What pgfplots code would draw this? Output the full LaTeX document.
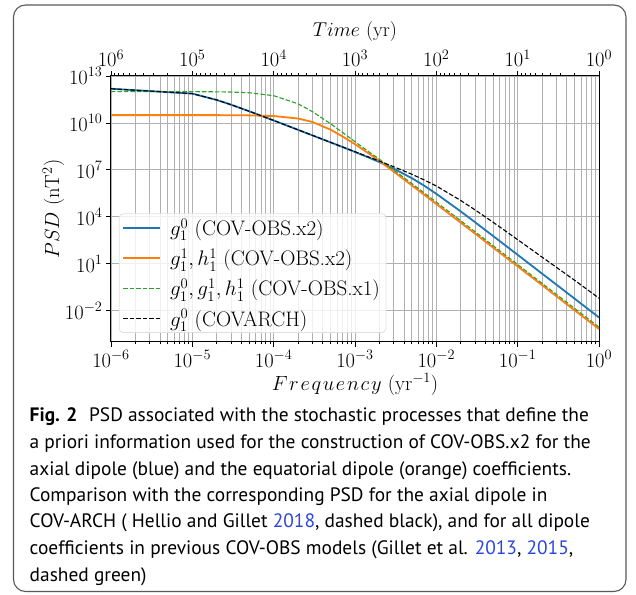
\RequirePackage{fix-cm}
\documentclass[border=0pt]{standalone}
\usepackage{pgfplots}
\pgfplotsset{compat=1.18}
\usepackage{fontspec}
\newfontfamily\capfont{PT Sans}
\definecolor{mplblue}{HTML}{1F77B4}
\definecolor{mplorange}{HTML}{FF7F0E}
\definecolor{mplgreen}{HTML}{2CA02C}
\definecolor{citeblue}{HTML}{2A45E0}
\definecolor{gridgray}{HTML}{B0B0B0}

\pgfplotstableread{
f        P
1e-6     1.53e12
1e-5     7.48e11
2e-5     2.93e11
3e-5     1.46e11
5e-5     5.57e10
1e-4     1.44e10
2e-4     3.60e9
3e-4     1.60e9
5e-4     5.73e8
7e-4     2.90e8
1e-3     1.39e8
1.5e-3   5.89e7
2e-3     3.13e7
3e-3     1.19e7
5e-3     2.95e6
7e-3     1.02e6
1e-2     2.95e5
2e-2     2.19e4
3e-2     4.47e3
5e-2     589
0.1      37.2
0.2      2.32
0.3      0.459
0.5      0.0594
1        3.72e-3
}\bluedata

\pgfplotstableread{
f        P
1e-6     3.16e10
1e-5     3.16e10
2e-5     3.16e10
3e-5     3.09e10
5e-5     3.05e10
1e-4     2.75e10
2e-4     1.91e10
3e-4     1.15e10
5e-4     3.72e9
7e-4     1.38e9
1e-3     4.37e8
1.5e-3   1.05e8
2e-3     3.63e7
3e-3     7.59e6
5e-3     1.02e6
7e-3     2.69e5
1e-2     6.61e4
2e-2     4.17e3
3e-2     832
5e-2     107
0.1      6.76
0.2      0.427
0.3      0.0832
0.5      0.0107
1        6.76e-4
}\orangedata

\pgfplotstableread{
f        P
1e-6     1.00e12
1e-5     9.97e11
2e-5     9.73e11
3e-5     9.42e11
5e-5     8.51e11
1e-4     5.50e11
2e-4     1.66e11
3e-4     5.25e10
5e-4     8.91e9
7e-4     2.51e9
1e-3     6.31e8
1.5e-3   1.35e8
2e-3     4.79e7
3e-3     9.77e6
5e-3     1.32e6
7e-3     3.55e5
1e-2     8.71e4
2e-2     5.56e3
3e-2     1.10e3
5e-2     141
0.1      8.91
0.2      0.556
0.3      0.110
0.5      0.0141
1        8.91e-4
}\greendata

\pgfplotstableread{
f        P
1e-6     1.53e12
1e-5     7.48e11
2e-5     2.93e11
3e-5     1.46e11
5e-5     5.57e10
1e-4     1.44e10
2e-4     3.61e9
3e-4     1.61e9
5e-4     5.78e8
7e-4     2.95e8
1e-3     1.45e8
1.5e-3   6.43e7
2e-3     3.61e7
3e-3     1.58e7
5e-3     5.25e6
7e-3     2.34e6
1e-2     9.33e5
2e-2     1.10e5
3e-2     2.75e4
5e-2     4.47e3
0.1      347
0.2      26.3
0.3      5.89
0.5      0.891
1        0.0631
}\blackdata

\begin{document}
\begin{tikzpicture}[x=1pt,y=1pt]
\path[use as bounding box] (0,0) rectangle (636,594);
\draw[rounded corners=12pt, color=black!65, line width=1.1pt] (13.5,2.5) rectangle (626,589);

% top axis (Time)
\begin{axis}[
  at={(111pt,252pt)}, anchor=south west,
  scale only axis, width=488pt, height=266pt,
  xmode=log, xmin=1, xmax=1e6, x dir=reverse,
  ymin=0, ymax=1,
  axis x line*=top, axis y line=none,
  tick align=outside,
  major tick length=5pt, minor tick length=2.5pt,
  every tick/.style={black, line width=0.8pt},
  axis line style={line width=1pt},
  ticklabel style={font=\fontsize{20.5}{20.5}\selectfont},
  xticklabel style={yshift=0.5pt},
  xlabel={$Time$ (yr)},
  xlabel style={font=\fontsize{20}{20}\selectfont, at={(axis description cs:0.5,1)}, anchor=base, yshift=39.5pt},
]
\addplot[draw=none] coordinates {(10,0.5)};
\end{axis}

% main axis
\begin{axis}[
  at={(111pt,252pt)}, anchor=south west,
  scale only axis, width=488pt, height=266pt,
  xmode=log, ymode=log,
  xmin=1e-6, xmax=1, ymin=1e-4, ymax=1e13,
  ytick={1e-2,1e1,1e4,1e7,1e10,1e13},
  yminorticks=false,
  xmajorgrids, xminorgrids, ymajorgrids,
  grid style={color=gridgray, line width=0.8pt},
  minor grid style={color=gridgray, line width=0.8pt},
  tick pos=left,
  tick align=outside,
  major tick length=5pt, minor tick length=2.5pt,
  every tick/.style={black, line width=0.8pt},
  axis line style={line width=1pt},
  ticklabel style={font=\fontsize{20.5}{20.5}\selectfont},
  xlabel={$F\mkern1.5mu r\mkern1.5mu e\mkern1.5mu q\mkern1.5mu u\mkern1.5mu e\mkern1.5mu n\mkern1.5mu c\mkern1.5mu y$ (yr$^{-1}$)},
  ylabel={$PSD$ (nT$^2$)},
  xlabel style={font=\fontsize{20.5}{20.5}\selectfont, at={(axis description cs:0.5,-0.16)}, anchor=center},
  ylabel style={font=\fontsize{20.5}{20.5}\selectfont, at={(axis description cs:-0.118,0.5)}, anchor=center, rotate=0},
  legend cell align=left,
  legend style={at={(0.016,0.034)}, anchor=south west, draw=black!12, rounded corners=4pt,
    fill=white, fill opacity=0.8, text opacity=1, line width=0.8pt,
    font=\fontsize{21}{21}\selectfont, inner xsep=3pt, inner ysep=4pt,
    row sep=9.5pt, nodes={inner xsep=3pt, inner ysep=1pt}},
  legend image code/.code={\draw[#1] (0pt,0pt) -- (37pt,0pt); \path (43pt,0pt);},
]
\addplot[color=mplblue, line width=1.8pt] table[x=f,y=P]{\bluedata};
\addlegendentry{$g_1^0$ (COV-OBS.x2)}
\addplot[color=mplorange, line width=1.8pt] table[x=f,y=P]{\orangedata};
\addlegendentry{$g_1^1, h_1^1$ (COV-OBS.x2)}
\addplot[color=mplgreen, line width=1.1pt, dash pattern=on 4.5pt off 2pt] table[x=f,y=P]{\greendata};
\addlegendentry{$g_1^0, g_1^1, h_1^1$ (COV-OBS.x1)}
\addplot[color=black, line width=1.1pt, dash pattern=on 4.5pt off 2pt] table[x=f,y=P]{\blackdata};
\addlegendentry{$g_1^0$ (COVARCH)}
\end{axis}

\begin{scope}[every node/.style={anchor=base west, inner sep=0pt, font=\capfont\fontsize{19.4}{19.4}\selectfont}]
\node at (29.5,172.3) {\textbf{Fig. 2}\hspace{0.6em}PSD associated with the stochastic processes that define the};
\node at (29.5,145.7) {a priori information used for the construction of COV-OBS.x2 for the};
\node at (29.5,119.0) {axial dipole (blue) and the equatorial dipole (orange) coefficients.};
\node at (29.5,92.3) {Comparison with the corresponding PSD for the axial dipole in};
\node at (29.5,66.3) {COV-ARCH ( Hellio and Gillet \textcolor{citeblue}{2018}, dashed black), and for all dipole};
\node at (29.5,39.7) {coefficients in previous COV-OBS models (Gillet et al. \textcolor{citeblue}{2013}, \textcolor{citeblue}{2015},};
\node at (29.5,13.0) {dashed green)};
\end{scope}
\end{tikzpicture}
\end{document}
